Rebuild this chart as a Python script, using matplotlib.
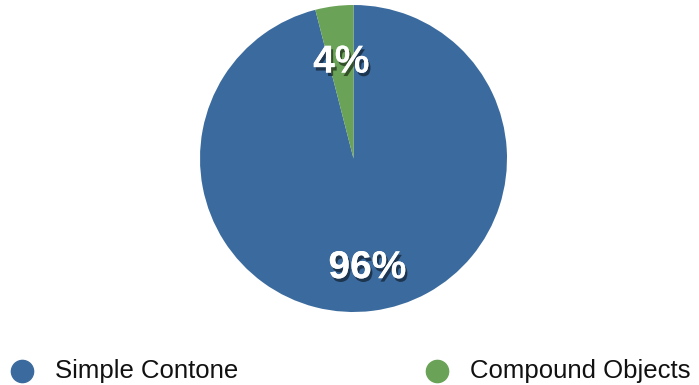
import matplotlib.pyplot as plt
import matplotlib.patheffects as pe
from matplotlib.lines import Line2D

categories = ['Simple Contone', 'Compound Objects']
shares = [96, 4]
colors = ['#3b6b9e', '#6aa257']

plt.rcParams['font.family'] = ['Liberation Sans', 'DejaVu Sans']

W, H = 699, 385
fig = plt.figure(figsize=(W / 100, H / 100), dpi=100)

# pie axes placed in pixel coordinates
cx, cy, r = 353.5, 158.5, 153.5
ax = fig.add_axes([(cx - r) / W, (H - cy - r) / H, 2 * r / W, 2 * r / H])
shadow = [pe.withSimplePatchShadow(offset=(1.5, -2.5), shadow_rgbFace='black', alpha=0.5),
          pe.Normal()]
wedges, texts, autotexts = ax.pie(shares, colors=colors, startangle=90, counterclock=False,
                                  autopct='%d%%', pctdistance=0.66,
                                  textprops=dict(color='white', fontsize=28, fontweight='bold'))
# labels sit at slightly different radii in the original
for t, d in zip(autotexts, [0.72, 0.63]):
    x, y = t.get_position()
    t.set_position((x * d / 0.66, y * d / 0.66))
    t.set_path_effects(shadow)
ax.set_xlim(-1, 1)
ax.set_ylim(-1, 1)
ax.set_aspect('equal')

# legend row along the bottom
lx = [22, 437]
ly = 371
for x, name, c in zip(lx, categories, colors):
    fig.add_artist(Line2D([x / W], [1 - ly / H], marker='o', markersize=16,
                          color=c, linestyle='none', transform=fig.transFigure))
    fig.text((x + 33) / W, 1 - ly / H, name, fontsize=18.5, color='#111111',
             va='center', ha='left')

fig.savefig('out.png', dpi=100)
